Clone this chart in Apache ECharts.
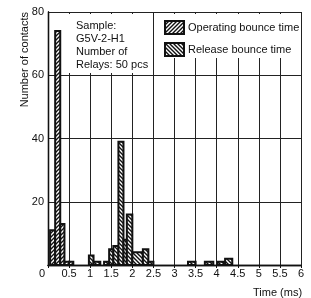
<!DOCTYPE html>
<html>
<head>
<meta charset="utf-8">
<script src="https://cdn.jsdelivr.net/npm/echarts@6/dist/echarts.min.js"></script>
<style>
html, body { margin: 0; padding: 0; background: #fff; }
#main { width: 311px; height: 298px; }
</style>
</head>
<body>
<div id="main"></div>
<script>
// histogram bins: start (ms), end (ms), number of contacts
var opStart = [0.05, 0.17, 0.29, 0.39, 0.5]
var opEnd = [0.17, 0.29, 0.39, 0.5, 0.6]
var opCount = [11, 74, 13, 1, 1]

var relStart = [0.97, 1.08, 1.33, 1.45, 1.55, 1.67, 1.79, 1.87, 2.0, 2.25, 2.38, 3.32, 3.72, 4.02, 4.2]
var relEnd = [1.08, 1.24, 1.45, 1.55, 1.67, 1.79, 1.87, 2.0, 2.25, 2.38, 2.5, 3.5, 3.92, 4.17, 4.37]
var relCount = [3, 1, 1, 5, 6, 39, 8, 16, 4, 5, 1, 1, 1, 1, 2]

var seriesNames = ['Operating bounce time', 'Release bounce time']
var noteLines = ['Sample:', 'G5V-2-H1', 'Number of', 'Relays: 50 pcs']

var font = '"Liberation Sans", Arial, Helvetica, sans-serif'

function hatch (dir) {
  var c = document.createElement('canvas')
  c.width = 4
  c.height = 4
  var g = c.getContext('2d')
  g.fillStyle = '#fff'
  g.fillRect(0, 0, 4, 4)
  g.strokeStyle = '#111'
  g.lineWidth = 1.4
  g.beginPath()
  if (dir > 0) {
    g.moveTo(-1, 5); g.lineTo(5, -1)
    g.moveTo(-1, 1); g.lineTo(1, -1)
    g.moveTo(3, 5); g.lineTo(5, 3)
  } else {
    g.moveTo(-1, -1); g.lineTo(5, 5)
    g.moveTo(-1, 3); g.lineTo(1, 5)
    g.moveTo(3, -1); g.lineTo(5, 1)
  }
  g.stroke()
  return { image: c, repeat: 'repeat' }
}

var opPat = hatch(1)
var relPat = hatch(-1)

function renderBar (pattern) {
  return function (params, api) {
    var a = api.coord([api.value(0), api.value(2)])
    var b = api.coord([api.value(1), 0])
    return {
      type: 'rect',
      shape: { x: a[0], y: a[1], width: b[0] - a[0], height: b[1] - a[1] },
      style: { fill: pattern, stroke: '#111', lineWidth: 2 }
    }
  }
}

var opData = opStart.map(function (s, i) { return [s, opEnd[i], opCount[i]] })
var relData = relStart.map(function (s, i) { return [s, relEnd[i], relCount[i]] })

var myChart = echarts.init(document.getElementById('main'))
var option = {
  animation: false,
  backgroundColor: '#fff',
  textStyle: { fontFamily: font },
  grid: { left: 48, right: 10, top: 12, bottom: 32 },
  legend: {
    data: seriesNames,
    orient: 'vertical',
    left: 164,
    top: 20,
    padding: 0,
    itemWidth: 19,
    itemHeight: 13,
    itemGap: 7,
    icon: 'rect',
    selectedMode: false,
    textStyle: { fontSize: 11, color: '#111', fontFamily: font, padding: [0, 0, 0, -1] },
    z: 12
  },
  xAxis: [
    {
      type: 'value',
      min: 0,
      max: 6,
      interval: 0.5,
      position: 'bottom',
      name: 'Time (ms)',
      nameLocation: 'end',
      nameGap: -48,
      nameTextStyle: { fontSize: 11, color: '#111', verticalAlign: 'top', padding: [22, 0, 0, 0] },
      axisLine: { lineStyle: { color: '#111', width: 1.3 } },
      axisTick: { show: false },
      splitLine: { show: true, lineStyle: { color: '#222', width: 1 } },
      axisLabel: {
        fontSize: 11,
        color: '#111',
        margin: 3,
        formatter: function (v) { return v === 0 ? '{z|0}' : String(v) },
        rich: { z: { fontSize: 11, color: '#111', padding: [0, 12, 0, 0] } }
      }
    },
    {
      type: 'value',
      min: 0,
      max: 6,
      interval: 0.5,
      position: 'top',
      axisLine: { lineStyle: { color: '#111', width: 1.3 } },
      axisTick: { inside: true, length: 3, lineStyle: { color: '#111' } },
      axisLabel: { show: false },
      splitLine: { show: false },
      z: 20
    }
  ],
  yAxis: [
    {
      type: 'value',
      min: 0,
      max: 80,
      interval: 20,
      axisLine: { show: true, lineStyle: { color: '#111', width: 1.3 } },
      axisTick: { show: false },
      splitLine: { show: true, lineStyle: { color: '#222', width: 1 } },
      axisLabel: {
        fontSize: 11,
        color: '#111',
        margin: 4,
        formatter: function (v) { return v === 0 ? '' : String(v) }
      }
    },
    {
      type: 'value',
      min: 0,
      max: 80,
      interval: 20,
      position: 'right',
      axisLine: { show: true, lineStyle: { color: '#111', width: 1.3 } },
      axisTick: { show: false },
      axisLabel: { show: false },
      splitLine: { show: false }
    }
  ],
  graphic: [
    { type: 'rect', z: 10, shape: { x: 68, y: 14, width: 84, height: 59 }, style: { fill: '#fff' } },
    { type: 'rect', z: 10, shape: { x: 161, y: 14, width: 138, height: 44 }, style: { fill: '#fff' } },
    {
      type: 'text', z: 11, x: 76, y: 19,
      style: { text: noteLines.join('\n'), fontSize: 11, fontFamily: font, fill: '#111', lineHeight: 13 }
    },
    {
      type: 'text', z: 11, x: 25, y: 12, rotation: Math.PI / 2,
      style: { text: 'Number of contacts', fontSize: 11, fontFamily: font, fill: '#111', align: 'right', verticalAlign: 'middle' }
    }
  ],
  series: [
    {
      name: seriesNames[0],
      type: 'custom',
      renderItem: renderBar(opPat),
      encode: { x: [0, 1], y: 2 },
      itemStyle: { color: opPat, borderColor: '#111', borderWidth: 2 },
      data: opData,
      z: 3
    },
    {
      name: seriesNames[1],
      type: 'custom',
      renderItem: renderBar(relPat),
      encode: { x: [0, 1], y: 2 },
      itemStyle: { color: relPat, borderColor: '#111', borderWidth: 2 },
      data: relData,
      z: 3
    }
  ]
}
myChart.setOption(option)
</script>
</body>
</html>
